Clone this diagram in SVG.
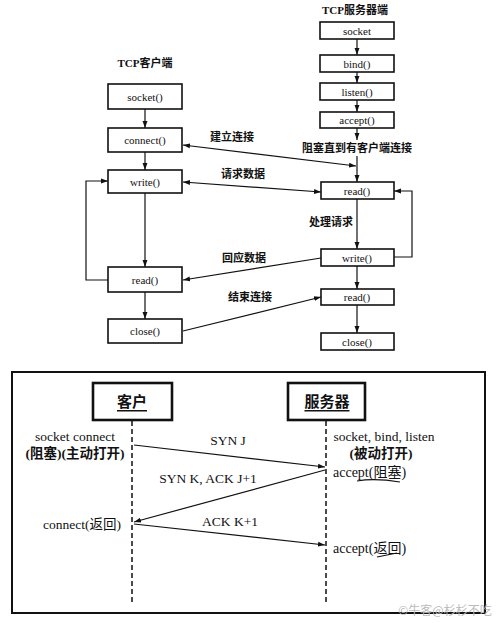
<svg xmlns="http://www.w3.org/2000/svg" width="500" height="623" viewBox="0 0 500 623">
<defs>
<marker id="ah" viewBox="0 0 10 10" refX="10" refY="5" markerWidth="7" markerHeight="7" orient="auto-start-reverse" markerUnits="userSpaceOnUse">
<path d="M0,1.5 L10,5 L0,8.5 Z" fill="#111"/>
</marker>
<style>
.box{fill:#fff;stroke:#111;stroke-width:1.6}
.hbox{fill:#fff;stroke:#111;stroke-width:2.6}
.arr{fill:none;stroke:#111;stroke-width:1.2;marker-end:url(#ah)}
.dbl{fill:none;stroke:#111;stroke-width:1.2;marker-end:url(#ah);marker-start:url(#ah)}
.life{fill:none;stroke:#111;stroke-width:1.5;stroke-dasharray:5,3}
.t{font-family:"Liberation Serif","Noto Sans CJK SC",serif;font-size:11px;fill:#111;text-anchor:middle;dominant-baseline:central}
.cn{font-family:"Liberation Serif","Noto Sans CJK SC",serif;font-size:11px;font-weight:bold;fill:#111;text-anchor:middle;dominant-baseline:central}
.b{font-family:"Liberation Serif","Noto Sans CJK SC",serif;font-size:13.5px;fill:#111;text-anchor:middle;dominant-baseline:central}
.bl{font-family:"Liberation Serif","Noto Sans CJK SC",serif;font-size:14px;fill:#111;text-anchor:start;dominant-baseline:central}
.bh{font-family:"Liberation Serif","Noto Sans CJK SC",serif;font-size:15px;font-weight:bold;fill:#111;text-anchor:middle;dominant-baseline:central;text-decoration:underline}
</style>
</defs>
<rect width="500" height="623" fill="#fff"/>

<text class="cn" x="145" y="63">TCP客户端</text>
<text class="cn" x="355" y="10">TCP服务器端</text>

<g id="c_socket"><rect class="box" x="108" y="84" width="74" height="25"/><text class="t" x="145" y="97">socket()</text></g>
<g id="c_connect"><rect class="box" x="108" y="128" width="74" height="24"/><text class="t" x="145" y="140">connect()</text></g>
<g id="c_write"><rect class="box" x="108" y="170" width="74" height="23"/><text class="t" x="145" y="182">write()</text></g>
<g id="c_read"><rect class="box" x="108" y="267" width="74" height="25"/><text class="t" x="145" y="280">read()</text></g>
<g id="c_close"><rect class="box" x="108" y="319" width="74" height="24"/><text class="t" x="145" y="331">close()</text></g>

<g id="s_socket"><rect class="box" x="320" y="22" width="74" height="17"/><text class="t" x="357" y="31">socket</text></g>
<g id="s_bind"><rect class="box" x="320" y="55" width="74" height="17"/><text class="t" x="357" y="64">bind()</text></g>
<g id="s_listen"><rect class="box" x="320" y="83" width="74" height="17"/><text class="t" x="357" y="92">listen()</text></g>
<g id="s_accept"><rect class="box" x="320" y="112" width="74" height="16"/><text class="t" x="357" y="120">accept()</text></g>
<g id="s_block"><text class="cn" x="357" y="148">阻塞直到有客户端连接</text></g>
<g id="s_read"><rect class="box" x="321" y="182" width="73" height="17"/><text class="t" x="357" y="191">read()</text></g>
<g id="s_write"><rect class="box" x="321" y="249" width="73" height="17"/><text class="t" x="357" y="258">write()</text></g>
<g id="s_read2"><rect class="box" x="321" y="289" width="73" height="16"/><text class="t" x="357" y="297">read()</text></g>
<g id="s_close"><rect class="box" x="321" y="333" width="73" height="17"/><text class="t" x="357" y="342">close()</text></g>

<g id="connectors">
<line class="arr" x1="145" y1="109" x2="145" y2="128"/>
<line class="arr" x1="145" y1="152" x2="145" y2="170"/>
<line class="arr" x1="145" y1="193" x2="145" y2="267"/>
<line class="arr" x1="145" y1="292" x2="145" y2="319"/>
<polyline class="arr" points="108,280 86,280 86,181 108,181"/>

<line class="arr" x1="357" y1="39" x2="357" y2="55"/>
<line class="arr" x1="357" y1="72" x2="357" y2="83"/>
<line class="arr" x1="357" y1="100" x2="357" y2="112"/>
<line class="arr" x1="357" y1="128" x2="357" y2="140"/>
<line class="arr" x1="357" y1="156" x2="357" y2="182"/>
<line class="arr" x1="357" y1="199" x2="357" y2="249"/>
<line class="arr" x1="357" y1="266" x2="357" y2="289"/>
<line class="arr" x1="357" y1="305" x2="357" y2="333"/>
<polyline class="arr" points="394,257 412,257 412,191 394,191"/>

<line class="dbl" x1="183" y1="145" x2="356" y2="166"/>
<line class="dbl" x1="183" y1="182" x2="321" y2="192"/>
<line class="arr" x1="321" y1="258" x2="183" y2="280"/>
<line class="arr" x1="183" y1="331" x2="321" y2="297"/>

<line class="life" x1="132" y1="421" x2="132" y2="604"/>
<line class="life" x1="326" y1="421" x2="326" y2="604"/>
<line class="arr" x1="134" y1="445" x2="325" y2="467"/>
<line class="arr" x1="325" y1="470" x2="134" y2="522"/>
<line class="arr" x1="134" y1="524" x2="325" y2="545"/>
</g>

<text class="cn" x="232" y="137">建立连接</text>
<text class="cn" x="243" y="174">请求数据</text>
<text class="cn" x="331" y="222">处理请求</text>
<text class="cn" x="244" y="258">回应数据</text>
<text class="cn" x="250" y="297">结束连接</text>

<rect x="12" y="372" width="473" height="241" fill="none" stroke="#111" stroke-width="2"/>
<g id="b_client"><rect class="hbox" x="93" y="383" width="79" height="37"/><text class="bh" x="132" y="402">客户</text></g>
<g id="b_server"><rect class="hbox" x="288" y="383" width="77" height="37"/><text class="bh" x="327" y="402">服务器</text></g>

<text class="b" x="75" y="436" font-size="14.5">socket connect</text>
<text class="b" x="75" y="453" font-size="14.5" font-weight="bold">(阻塞)(主动打开)</text>
<text class="b" x="228" y="440">SYN J</text>
<text class="b" x="208" y="478">SYN K, ACK J+1</text>
<text class="b" x="230" y="521">ACK K+1</text>
<text class="b" x="384" y="436" font-size="14">socket, bind, listen</text>
<text class="b" x="381" y="453" font-size="14.5" font-weight="bold">(被动打开)</text>
<text class="bl" x="333" y="472">accept(阻塞)</text>
<path d="M357,481 Q375,478 400,482" fill="none" stroke="#111" stroke-width="1.2"/>
<text class="b" x="82" y="524" font-size="14">connect(返回)</text>
<text class="bl" x="333" y="548">accept(返回)</text>
<path d="M377,557 Q387,555 397,553" fill="none" stroke="#111" stroke-width="1.2"/>
<text x="445" y="609" font-family="'Noto Sans CJK SC',sans-serif" font-size="12" fill="#bbb" text-anchor="middle" dominant-baseline="central">©牛客@杉杉不吃</text>
</svg>
